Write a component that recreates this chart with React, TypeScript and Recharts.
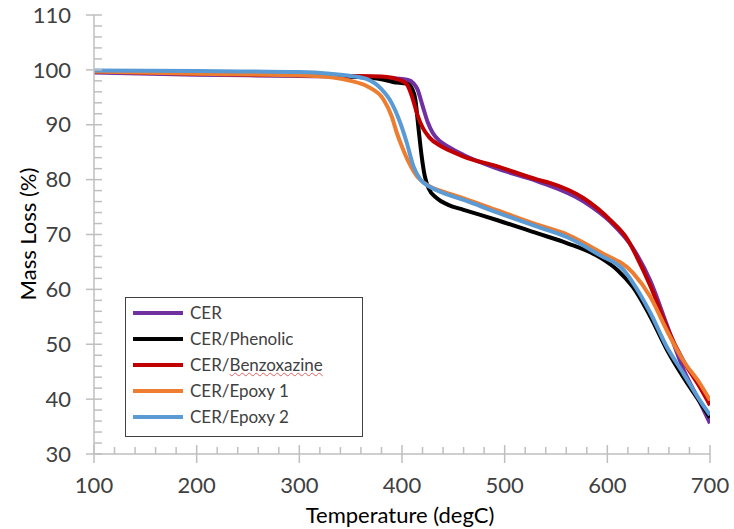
import React from 'react';
import { LineChart, Line, XAxis, YAxis, Legend } from 'recharts';

// Temperature (degC) / mass (%) pairs
const cerT = [100, 200, 300, 380, 405, 411, 415, 420, 425, 430, 437, 445, 460, 493, 532, 577, 603, 625, 642, 658, 674, 690, 700];
const cerV = [99.5, 99.1, 98.9, 98.6, 98.2, 97.6, 96.5, 93.5, 90.5, 88.5, 87, 86, 84.5, 82, 79.7, 76, 72.3, 67.5, 61.5, 53.5, 45.5, 39.5, 35.6];

const phenT = [100, 200, 300, 350, 380, 391, 405, 410, 413, 416, 419, 422, 426, 434, 445, 460, 493, 532, 561, 593, 610, 625, 642, 658, 674, 690, 700];
const phenV = [99.8, 99.5, 99.2, 98.8, 98.3, 97.8, 97.5, 96.5, 94.6, 89.5, 84.5, 80.8, 78.4, 76.6, 75.4, 74.5, 72.6, 70.2, 68.4, 65.8, 63.5, 60.4, 55, 49, 44, 39.5, 36.6];

const benzT = [100, 200, 300, 350, 380, 400, 405, 410, 415, 420, 427, 437, 450, 460, 493, 532, 544, 577, 603, 620, 629, 642, 658, 674, 690, 700];
const benzV = [99.7, 99.3, 99.0, 98.9, 98.8, 98.0, 97.3, 95, 91.8, 89.5, 87.6, 86.2, 85, 84.2, 82.4, 80, 79.4, 76.6, 72.6, 69, 65.8, 60.6, 53.1, 47, 42.2, 38.9];

const ep1T = [100, 200, 300, 333, 350, 366, 382, 390, 395, 400, 407, 415, 425, 440, 460, 493, 535, 561, 593, 625, 642, 658, 674, 690, 700];
const ep1V = [99.7, 99.3, 99.0, 98.6, 98.0, 97, 94.6, 91.5, 88.5, 86, 83, 80.5, 79, 77.8, 76.6, 74.4, 71.6, 70, 66.8, 63, 58.6, 52.5, 47, 42.9, 39.8];

const ep2T = [100, 200, 300, 330, 350, 366, 380, 388, 398, 405, 411, 418, 427, 440, 460, 493, 535, 561, 593, 616, 625, 642, 658, 674, 690, 700];
const ep2V = [99.9, 99.8, 99.6, 99.3, 98.9, 98.3, 96.5, 94.6, 90.5, 86.5, 82.5, 80, 78.7, 77.6, 76.3, 74, 71.2, 69.5, 66.2, 63.5, 61.2, 55.7, 49.5, 44.7, 39.8, 37.1];

const seriesNames = ['CER', 'CER/Phenolic', 'CER/Benzoxazine', 'CER/Epoxy 1', 'CER/Epoxy 2'];
const seriesColors = ['#7030A0', '#000000', '#C00000', '#ED7D31', '#5B9BD5'];
const seriesT = [cerT, phenT, benzT, ep1T, ep2T];
const seriesV = [cerV, phenV, benzV, ep1V, ep2V];

const xMajor = [100, 200, 300, 400, 500, 600, 700];
const yMajor = [30, 40, 50, 60, 70, 80, 90, 100, 110];

const xTicks: number[] = [];
for (let t = 100; t <= 700; t += 20) xTicks.push(t);
const yTicks: number[] = [];
for (let v = 30; v <= 110; v += 2) yTicks.push(v);

const FONT = 'Lato, "Open Sans", sans-serif';
const AXIS = '#BFBFBF';
const TXT = '#404040';

const XTick = (props: any) => {
  const { x, y, payload } = props;
  const major = xMajor.includes(payload.value);
  return (
    <g>
      {major ? (
        <line x1={x} x2={x} y1={y - 9} y2={y + 9} stroke={AXIS} strokeWidth={1.5} />
      ) : (
        <line x1={x} x2={x} y1={y - 7} y2={y} stroke={AXIS} strokeWidth={1.5} />
      )}
      {major && (
        <text x={x} y={y + 31} dy="0.35em" textAnchor="middle" fontSize={22} fill={TXT} fontFamily={FONT}>
          {payload.value}
        </text>
      )}
    </g>
  );
};

const YTick = (props: any) => {
  const { x, y, payload } = props;
  const major = yMajor.includes(payload.value);
  return (
    <g>
      {major ? (
        <line x1={x - 8} x2={x + 8} y1={y} y2={y} stroke={AXIS} strokeWidth={1.5} />
      ) : (
        <line x1={x} x2={x + 8} y1={y} y2={y} stroke={AXIS} strokeWidth={1.5} />
      )}
      {major && (
        <text x={x - 23} y={y} dy="0.35em" textAnchor="end" fontSize={22} fill={TXT} fontFamily={FONT}>
          {payload.value}
        </text>
      )}
    </g>
  );
};

const LegendBox = () => (
  <div
    style={{
      width: 236,
      height: 136,
      border: '1.5px solid #404040',
      background: '#fff',
      boxSizing: 'content-box',
      paddingTop: 2,
      fontFamily: FONT,
    }}
  >
    {seriesNames.map((n, i) => (
      <div key={n} style={{ display: 'flex', alignItems: 'center', height: 26, marginLeft: 7 }}>
        <svg width={50} height={6} style={{ display: 'block' }}>
          <line x1={0} x2={50} y1={3} y2={3} stroke={seriesColors[i]} strokeWidth={4} />
        </svg>
        <span style={{ marginLeft: 7, fontSize: 17, color: TXT, lineHeight: '20px' }}>
          {n === 'CER/Benzoxazine' ? (
            <>
              CER/
              <span style={{ textDecoration: 'underline wavy #E06060', textDecorationThickness: 1 }}>Benzoxazine</span>
            </>
          ) : (
            n
          )}
        </span>
      </div>
    ))}
  </div>
);

export default function App() {
  return (
    <div style={{ position: 'absolute', left: 0, top: 0, width: 734, height: 529, background: '#fff' }}>
      <LineChart width={734} height={529} margin={{ top: 15, right: 24, bottom: 25, left: 34 }}>
        <XAxis
          dataKey="t"
          type="number"
          domain={[100, 700]}
          ticks={xTicks}
          interval={0}
          height={50}
          tickSize={0}
          tickMargin={0}
          tickLine={false}
          axisLine={{ stroke: AXIS, strokeWidth: 1.5 }}
          tick={<XTick />}
          allowDataOverflow
        />
        <YAxis
          type="number"
          domain={[30, 110]}
          ticks={yTicks}
          interval={0}
          width={60}
          tickSize={0}
          tickMargin={0}
          tickLine={false}
          axisLine={{ stroke: AXIS, strokeWidth: 1.5 }}
          tick={<YTick />}
          allowDataOverflow
        />
        <Legend
          layout="vertical"
          align="center"
          verticalAlign="middle"
          wrapperStyle={{ position: 'absolute', left: 125, top: 297, width: 240, height: 140 }}
          content={() => <LegendBox />}
        />
        {seriesNames.map((n, i) => (
          <Line
            key={n}
            name={n}
            data={seriesT[i].map((t, k) => ({ t, v: seriesV[i][k] }))}
            dataKey="v"
            type="monotone"
            stroke={seriesColors[i]}
            strokeWidth={4}
            dot={false}
            activeDot={false}
            isAnimationActive={false}
          />
        ))}
      </LineChart>
      <div
        style={{
          position: 'absolute',
          left: 0,
          width: 800,
          top: 502,
          textAlign: 'center',
          fontFamily: FONT,
          fontSize: 22,
          color: '#000',
          lineHeight: '26px',
        }}
      >
        Temperature (degC)
      </div>
      <div
        style={{
          position: 'absolute',
          left: 28,
          top: 234,
          transform: 'translate(-50%, -50%) rotate(-90deg)',
          whiteSpace: 'nowrap',
          fontFamily: FONT,
          fontSize: 22,
          color: '#000',
          lineHeight: '26px',
        }}
      >
        Mass Loss (%)
      </div>
    </div>
  );
}
